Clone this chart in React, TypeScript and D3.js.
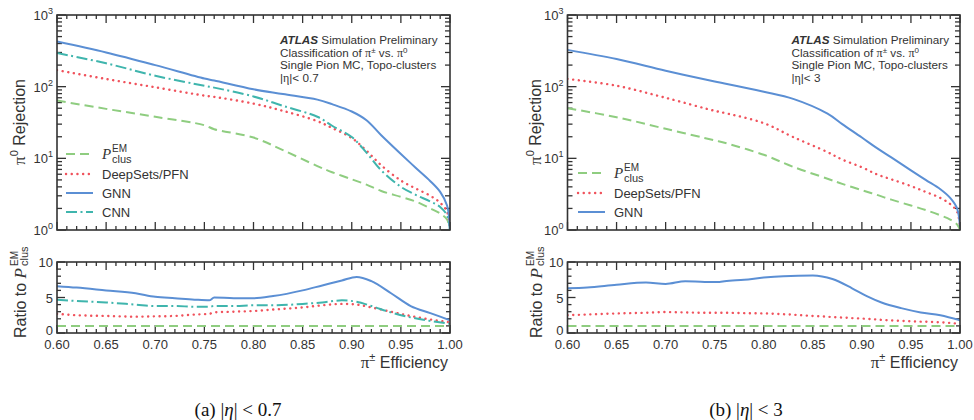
import React from 'react';
import * as d3 from 'd3';

// ---- data (efficiency grid for the rejection panels) ----
const EFF = [0.60, 0.65, 0.70, 0.75, 0.76, 0.80, 0.83, 0.865, 0.88, 0.90, 0.915, 0.93, 0.95, 0.965, 0.98, 0.99, 0.997, 1.00];

// (a) |eta| < 0.7
const A_EM = [64, 49, 38, 29, 25.5, 19.5, 13, 7.8, 6.4, 5.1, 4.3, 3.5, 2.9, 2.5, 2.0, 1.7, 1.4, 1.0];
const A_PFN = [170, 128, 98, 75, 72, 58, 46, 33, 26.5, 19.2, 12.8, 8.0, 4.9, 3.8, 3.0, 2.4, 1.8, 1.0];
const A_GNN = [426, 300, 200, 130, 122, 92, 79, 66, 57, 45, 34, 21, 11.5, 7.4, 4.8, 3.4, 2.2, 1.0];
const A_CNN = [295, 212, 142, 103, 97, 73, 54, 38, 28.5, 19.8, 12.0, 6.8, 4.0, 3.1, 2.5, 2.1, 1.6, 1.0];

// (b) |eta| < 3
const B_EM = [50, 37.5, 25.8, 17.8, 16.5, 11.2, 7.6, 5.2, 4.4, 3.6, 3.1, 2.65, 2.2, 1.9, 1.6, 1.4, 1.2, 1.0];
const B_PFN = [128, 103, 70, 46, 43, 31, 19.8, 12.2, 9.6, 7.5, 6.0, 5.1, 4.1, 3.4, 2.8, 2.3, 1.8, 1.1];
const B_GNN = [326, 243, 167, 118, 111, 85, 67.5, 42, 30, 19.5, 14, 10.3, 6.8, 5.0, 3.7, 2.8, 2.0, 1.1];

// ratio panels
const RATIO_EFF = [0.60, 0.62, 0.65, 0.68, 0.70, 0.72, 0.74, 0.755, 0.76, 0.78, 0.80, 0.82, 0.85, 0.87, 0.89, 0.905, 0.92, 0.94, 0.96, 0.98, 1.00];
const A_R_EM = [1, 1, 1, 1, 1, 1, 1, 1, 1, 1, 1, 1, 1, 1, 1, 1, 1, 1, 1, 1, 1];
const A_R_PFN = [2.7, 2.5, 2.4, 2.3, 2.35, 2.4, 2.6, 2.7, 2.9, 3.0, 3.1, 3.3, 3.6, 3.9, 4.1, 4.0, 3.6, 3.0, 2.4, 1.9, 1.5];
const A_R_GNN = [6.6, 6.4, 6.0, 5.6, 5.1, 4.9, 4.7, 4.6, 5.0, 4.9, 4.9, 5.2, 6.0, 6.7, 7.4, 7.9, 7.3, 5.6, 3.8, 2.8, 1.8];
const A_R_CNN = [4.7, 4.5, 4.3, 4.0, 3.8, 3.8, 3.7, 3.7, 3.8, 3.8, 3.9, 3.9, 4.1, 4.3, 4.6, 4.4, 3.8, 2.9, 2.2, 1.7, 1.3];
const B_R_EM = [1, 1, 1, 1, 1, 1, 1, 1, 1, 1, 1, 1, 1, 1, 1, 1, 1, 1, 1, 1, 1];
const B_R_PFN = [2.5, 2.6, 2.75, 2.85, 2.95, 2.9, 2.85, 2.85, 2.85, 2.8, 2.75, 2.65, 2.4, 2.25, 2.1, 2.0, 1.85, 1.7, 1.6, 1.5, 1.3];
const B_R_GNN = [6.3, 6.4, 6.8, 7.1, 6.9, 7.3, 7.2, 7.2, 7.3, 7.5, 7.8, 8.0, 8.1, 7.6, 6.3, 5.2, 4.3, 3.5, 2.9, 2.5, 1.8];

const X_TICK_LABELS = ['0.60', '0.65', '0.70', '0.75', '0.80', '0.85', '0.90', '0.95', '1.00'];
const RATIO_TICK_LABELS = ['0', '5', '10'];

const STYLE: Record<string, { stroke: string; dash?: string; cap?: string; width: number }> = {
  em: { stroke: '#8fcd80', dash: '9,5', width: 2 },
  pfn: { stroke: '#f0525c', dash: '0.1,5.6', cap: 'round', width: 2.4 },
  gnn: { stroke: '#5b8fd4', width: 2 },
  cnn: { stroke: '#3fb5ad', dash: '11,3.5,2,3.5', width: 2 },
};

const SANS = '"Liberation Sans", Arial, Helvetica, sans-serif';
const SERIF = '"Liberation Serif", "Times New Roman", serif';
const INK = '#333';

const Y_TOP = 15, Y_BOT = 230, R_TOP = 262, R_BOT = 333;

type Series = { key: string; values: number[] };

function PClus({ x, y, size }: { x: number; y: number; size: number }) {
  return (
    <g>
      <text x={x} y={y} fontFamily={SERIF} fontStyle="italic" fontSize={size + 2} fill={INK}>P</text>
      <text x={x + 10} y={y - 7} fontFamily={SANS} fontSize={size - 3} fill={INK}>EM</text>
      <text x={x + 10} y={y + 4} fontFamily={SANS} fontSize={size - 2} fill={INK}>clus</text>
    </g>
  );
}

function Panel(props: {
  id: string; x0: number; x1: number; rej: Series[]; ratio: Series[];
  legendOrder: string[]; legendX: number; legendY: number[];
  atlasX: number; eta: string; caption: string; captionX: number;
  yLabelX: number;
}) {
  const { id, x0, x1, rej, ratio, legendOrder, legendX, legendY, atlasX, eta, caption, captionX, yLabelX } = props;
  const x = d3.scaleLinear().domain([0.6, 1.0]).range([x0, x1]);
  const y = d3.scaleLog().domain([1, 1000]).range([Y_BOT, Y_TOP]);
  const r = d3.scaleLinear().domain([0, 10]).range([R_BOT, R_TOP]);

  const lineTop = d3.line<number>().x((_, i) => x(EFF[i])).y(v => y(v)).curve(d3.curveCatmullRom.alpha(0.5));
  const lineRat = d3.line<number>().x((_, i) => x(RATIO_EFF[i])).y(v => r(v)).curve(d3.curveMonotoneX);

  const xTicks = d3.range(0, 41).map(i => 0.6 + i * 0.01);
  const logMinor: number[] = [];
  [1, 10, 100].forEach(d => { for (let m = 2; m <= 9; m++) logMinor.push(m * d); });
  const logMajor = [1, 10, 100, 1000];
  const rTicks = d3.range(0, 11);

  const frame = { stroke: INK, strokeWidth: 1.6, fill: 'none' };
  const tickProps = { stroke: INK, strokeWidth: 1.3 };

  const drawSeries = (s: Series, gen: any) => {
    const st = STYLE[s.key];
    return (
      <path key={s.key} d={gen(s.values) || ''} fill="none" stroke={st.stroke} strokeWidth={st.width}
        strokeDasharray={st.dash} strokeLinecap={(st.cap as any) || 'butt'} strokeLinejoin="round" />
    );
  };

  const xAxisTicks = (top: number, bot: number) => xTicks.map((t, i) => {
    const major = i % 5 === 0;
    const L = major ? 8 : 4;
    const px = x(t);
    return (
      <g key={i}>
        <line x1={px} x2={px} y1={bot} y2={bot - L} {...tickProps} />
        <line x1={px} x2={px} y1={top} y2={top + L} {...tickProps} />
      </g>
    );
  });

  return (
    <g>
      <defs>
        <clipPath id={`clipTop${id}`}><rect x={x0} y={Y_TOP} width={x1 - x0} height={Y_BOT - Y_TOP} /></clipPath>
        <clipPath id={`clipRat${id}`}><rect x={x0} y={R_TOP} width={x1 - x0} height={R_BOT - R_TOP} /></clipPath>
      </defs>

      {/* ---------- top panel ---------- */}
      {xAxisTicks(Y_TOP, Y_BOT)}
      {logMajor.map(v => (
        <g key={'M' + v}>
          <line x1={x0} x2={x0 + 9} y1={y(v)} y2={y(v)} {...tickProps} />
          <line x1={x1} x2={x1 - 9} y1={y(v)} y2={y(v)} {...tickProps} />
        </g>
      ))}
      {logMinor.map(v => (
        <g key={'m' + v}>
          <line x1={x0} x2={x0 + 5} y1={y(v)} y2={y(v)} {...tickProps} />
          <line x1={x1} x2={x1 - 5} y1={y(v)} y2={y(v)} {...tickProps} />
        </g>
      ))}
      {logMajor.map((v, i) => (
        <text key={'lab' + v} x={x0 - 4} y={y(v) + 5} textAnchor="end" fontFamily={SANS} fontSize={13} fill={INK}>
          10<tspan dy={-6} fontSize={9}>{i}</tspan>
        </text>
      ))}
      <g clipPath={`url(#clipTop${id})`}>
        {rej.map(s => drawSeries(s, lineTop))}
      </g>
      <rect x={x0} y={Y_TOP} width={x1 - x0} height={Y_BOT - Y_TOP} {...frame} />

      {/* y label */}
      <g transform={`translate(${yLabelX},122) rotate(-90)`}>
        <text textAnchor="middle" fontFamily={SANS} fontSize={16} fill={INK}>
          <tspan fontFamily={SERIF} fontSize={17}>π</tspan>
          <tspan dy={-7} fontSize={11}>0</tspan>
          <tspan dy={7}> Rejection</tspan>
        </text>
      </g>

      {/* ATLAS label */}
      <text x={atlasX} y={44} fontFamily={SANS} fontSize={11.7} fill={INK}>
        <tspan fontWeight="bold" fontStyle="italic">ATLAS</tspan> Simulation Preliminary
      </text>
      <text x={atlasX} y={56.5} fontFamily={SANS} fontSize={11.7} fill={INK}>
        Classification of <tspan fontFamily={SERIF} fontSize={12}>π</tspan><tspan dy={-4} fontSize={8}>±</tspan><tspan dy={4}> vs. </tspan><tspan fontFamily={SERIF} fontSize={12}>π</tspan><tspan dy={-4} fontSize={8}>0</tspan>
      </text>
      <text x={atlasX} y={69} fontFamily={SANS} fontSize={11.7} fill={INK}>Single Pion MC, Topo-clusters</text>
      <text x={atlasX} y={81.5} fontFamily={SANS} fontSize={11.7} fill={INK}>
        |<tspan fontFamily={SERIF} fontSize={12}>η</tspan>|&lt; {eta}
      </text>

      {/* legend */}
      {legendOrder.map((k, i) => {
        const st = STYLE[k];
        const ly = legendY[i];
        return (
          <g key={'leg' + k}>
            <line x1={legendX} x2={legendX + 27} y1={ly} y2={ly} stroke={st.stroke} strokeWidth={st.width}
              strokeDasharray={st.dash} strokeLinecap={(st.cap as any) || 'butt'} />
            {k === 'em' ? (
              <PClus x={legendX + 36} y={ly + 5} size={13} />
            ) : (
              <text x={legendX + 36} y={ly + 5} fontFamily={SANS} fontSize={13} fill={INK}>
                {k === 'pfn' ? 'DeepSets/PFN' : k === 'gnn' ? 'GNN' : 'CNN'}
              </text>
            )}
          </g>
        );
      })}

      {/* ---------- ratio panel ---------- */}
      {xAxisTicks(R_TOP, R_BOT)}
      {rTicks.map(v => {
        const major = v % 5 === 0;
        const L = major ? 8 : 4;
        return (
          <g key={'rt' + v}>
            <line x1={x0} x2={x0 + L} y1={r(v)} y2={r(v)} {...tickProps} />
            <line x1={x1} x2={x1 - L} y1={r(v)} y2={r(v)} {...tickProps} />
          </g>
        );
      })}
      {RATIO_TICK_LABELS.map(l => (
        <text key={'rl' + l} x={x0 - 4} y={+l === 0 ? r(0) + 2 : r(+l) + 5} textAnchor="end" fontFamily={SANS} fontSize={13} fill={INK}>{l}</text>
      ))}
      <g clipPath={`url(#clipRat${id})`}>
        {ratio.map(s => drawSeries(s, lineRat))}
      </g>
      <rect x={x0} y={R_TOP} width={x1 - x0} height={R_BOT - R_TOP} {...frame} />
      {X_TICK_LABELS.map(l => (
        <text key={'xl' + l} x={x(+l)} y={348.5} textAnchor="middle" fontFamily={SANS} fontSize={13} fill={INK}>{l}</text>
      ))}
      <text x={x1 - 2} y={368} textAnchor="end" fontFamily={SANS} fontSize={16} fill={INK}>
        <tspan fontFamily={SERIF} fontSize={17}>π</tspan><tspan dy={-7} fontSize={11}>±</tspan><tspan dy={7}> Efficiency</tspan>
      </text>

      {/* ratio y label */}
      <g transform={`translate(${yLabelX + 1},0) rotate(-90)`}>
        <text x={-268} y={0} textAnchor="end" fontFamily={SANS} fontSize={16} fill={INK}>
          Ratio to <tspan fontFamily={SERIF} fontStyle="italic" fontSize={17}>P</tspan>
        </text>
        <text x={-266} y={-8} fontFamily={SANS} fontSize={10} fill={INK}>EM</text>
        <text x={-266} y={2} fontFamily={SANS} fontSize={11} fill={INK}>clus</text>
      </g>

      {/* caption */}
      <text x={captionX} y={416} textAnchor="middle" fontFamily={SERIF} fontSize={19} fill="#111">
        {caption} |<tspan fontStyle="italic">η</tspan>| &lt; {eta}
      </text>
    </g>
  );
}

export default function App() {
  return (
    <svg width={974} height={420} style={{ position: 'absolute', left: 0, top: 0, background: '#fff' }}>
      <rect x={0} y={0} width={974} height={420} fill="#fff" />
      <Panel id="a" x0={57} x1={450}
        rej={[{ key: 'em', values: A_EM }, { key: 'pfn', values: A_PFN }, { key: 'cnn', values: A_CNN }, { key: 'gnn', values: A_GNN }]}
        ratio={[{ key: 'em', values: A_R_EM }, { key: 'pfn', values: A_R_PFN }, { key: 'cnn', values: A_R_CNN }, { key: 'gnn', values: A_R_GNN }]}
        legendOrder={['em', 'pfn', 'gnn', 'cnn']} legendX={66} legendY={[154, 174, 193, 212]}
        atlasX={280} eta="0.7" caption="(a)" captionX={238} yLabelX={25} />
      <Panel id="b" x0={567.5} x1={960}
        rej={[{ key: 'em', values: B_EM }, { key: 'pfn', values: B_PFN }, { key: 'gnn', values: B_GNN }]}
        ratio={[{ key: 'em', values: B_R_EM }, { key: 'pfn', values: B_R_PFN }, { key: 'gnn', values: B_R_GNN }]}
        legendOrder={['em', 'pfn', 'gnn']} legendX={578} legendY={[173, 193, 212]}
        atlasX={791.5} eta="3" caption="(b)" captionX={746} yLabelX={541} />
    </svg>
  );
}
